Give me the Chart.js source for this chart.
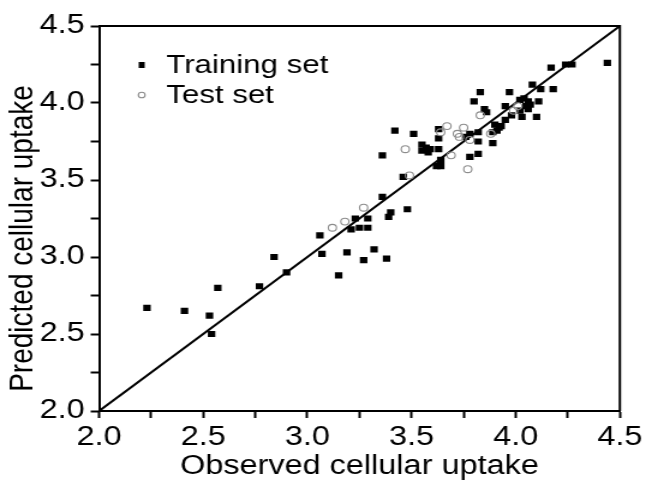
<!DOCTYPE html>
<html>
<head>
<meta charset="utf-8">
<script src="https://cdn.jsdelivr.net/npm/chart.js@4.4.1/dist/chart.umd.min.js"></script>
<style>
  body { margin: 0; background: #fff; }
  canvas { display: block; }
</style>
</head>
<body>
<!-- the original figure is stretched sideways, so the canvas is drawn narrower and widened by CSS -->
<canvas id="chartCanvas" width="538" height="483" style="width:646px;height:483px"></canvas>
<script>
// observed / predicted values
const trainX = [2.23, 2.41, 2.53, 2.54, 2.57, 2.77, 2.84, 2.90, 3.06, 3.07, 3.15, 3.19, 3.21, 3.23, 3.25,
    3.27, 3.29, 3.29, 3.32, 3.36, 3.36, 3.38, 3.39, 3.40, 3.42, 3.46, 3.48, 3.51, 3.55, 3.55,
    3.57, 3.59, 3.58, 3.62, 3.63, 3.63, 3.63, 3.64, 3.64, 3.76, 3.78, 3.78, 3.80, 3.82, 3.82,
    3.82, 3.83, 3.85, 3.86, 3.89, 3.89, 3.90, 3.91, 3.92, 3.93, 3.95, 3.95, 3.97, 3.98, 4.02,
    4.02, 4.03, 4.04, 4.05, 4.06, 4.07, 4.06, 4.08, 4.10, 4.11, 4.12, 4.17, 4.18, 4.24, 4.27, 4.44];
const trainY = [2.67, 2.65, 2.62, 2.50, 2.80, 2.81, 3.00, 2.90, 3.14, 3.02, 2.88, 3.03, 3.18, 3.25, 3.19,
    2.98, 3.25, 3.19, 3.05, 3.39, 3.66, 2.99, 3.26, 3.29, 3.82, 3.52, 3.31, 3.80, 3.73, 3.69,
    3.71, 3.70, 3.68, 3.59, 3.77, 3.83, 3.70, 3.63, 3.59, 3.78, 3.65, 3.80, 4.01, 3.81, 3.75,
    3.67, 4.07, 3.96, 3.94, 3.74, 3.81, 3.86, 3.82, 3.84, 3.85, 3.89, 3.98, 4.07, 3.92, 3.95,
    4.02, 3.91, 4.03, 3.98, 4.01, 3.99, 3.96, 4.12, 3.91, 4.01, 4.09, 4.23, 4.09, 4.25, 4.25, 4.26];

const testX = [3.12, 3.18, 3.27, 3.47, 3.49, 3.64, 3.67, 3.69, 3.72, 3.73, 3.75, 3.77, 3.78, 3.83, 3.88, 3.99, 4.01];
const testY = [3.19, 3.23, 3.32, 3.70, 3.53, 3.81, 3.85, 3.66, 3.80, 3.78, 3.84, 3.57, 3.76, 3.92, 3.80, 3.95, 3.98];

// y = x reference line
const lineX = [2.0, 4.5];
const lineY = [2.0, 4.5];

const legendNames = ["Training set", "Test set"];
const xTitle = 'Observed cellular uptake';
const yTitle = 'Predicted cellular uptake';
const axisMin = 2.0;
const axisMax = 4.5;

const FONT = "'Liberation Sans', Arial, sans-serif";

function toPoints(xs, ys) {
    return xs.map((x, i) => ({ x: x, y: ys[i] }));
}

// box around the plot, the legend inside the top-left corner, and the y title
// (which sits a bit lower than the centre of the axis in the original)
const framePlugin = {
    id: 'frame',
    afterDraw(chart) {
        const ctx = chart.ctx;
        const a = chart.chartArea;
        ctx.save();
        ctx.strokeStyle = '#000';
        ctx.lineWidth = 2;
        ctx.beginPath();
        ctx.moveTo(a.left, a.top);
        ctx.lineTo(a.right, a.top);
        ctx.lineTo(a.right, a.bottom);
        ctx.stroke();

        ctx.font = '26px ' + FONT;
        ctx.fillStyle = '#000';
        ctx.textBaseline = 'middle';
        // training marker
        ctx.fillRect(a.left + 33, a.top + 36, 5, 6);
        ctx.fillText(legendNames[0], a.left + 56, a.top + 40);
        // test marker
        ctx.strokeStyle = '#8c8c8c';
        ctx.lineWidth = 1.1;
        ctx.beginPath();
        ctx.arc(a.left + 35.5, a.top + 69, 2.8, 0, Math.PI * 2);
        ctx.stroke();
        ctx.fillText(legendNames[1], a.left + 56, a.top + 70);

        ctx.font = '28px ' + FONT;
        ctx.textAlign = 'center';
        ctx.translate(19, (a.top + a.bottom) / 2 + 20);
        ctx.rotate(-Math.PI / 2);
        ctx.fillText(yTitle, 0, 0);
        ctx.restore();
    }
};

function tickLabel(value) {
    return Math.round(value * 4) % 2 === 0 ? value.toFixed(1) : '';
}

const ctx = document.getElementById('chartCanvas').getContext('2d');
const chart = new Chart(ctx, {
    type: 'scatter',
    data: {
        datasets: [
            {
                label: 'y = x',
                data: toPoints(lineX, lineY),
                showLine: true,
                borderColor: '#000',
                borderWidth: 2,
                pointRadius: 0,
                order: 3
            },
            {
                label: legendNames[0],
                data: toPoints(trainX, trainY),
                pointStyle: 'rect',
                pointRadius: 4.4,
                backgroundColor: '#000',
                borderWidth: 0,
                order: 2
            },
            {
                label: legendNames[1],
                data: toPoints(testX, testY),
                pointStyle: 'circle',
                pointRadius: 3.4,
                backgroundColor: 'rgba(0,0,0,0)',
                borderColor: '#8c8c8c',
                borderWidth: 1.1,
                order: 1
            }
        ]
    },
    options: {
        responsive: false,
        animation: false,
        layout: {
            padding: { top: 26, right: 19, left: 0, bottom: 0 }
        },
        scales: {
            x: {
                type: 'linear',
                position: 'bottom',
                min: axisMin,
                max: axisMax,
                afterFit: scale => { scale.height = 72; },
                ticks: {
                    stepSize: 0.25,
                    autoSkip: false,
                    maxRotation: 0,
                    padding: 3,
                    color: '#000',
                    font: { family: FONT, size: 27 },
                    callback: tickLabel
                },
                grid: {
                    drawOnChartArea: false,
                    tickLength: 7,
                    tickColor: '#000',
                    tickWidth: 2
                },
                border: { color: '#000', width: 2 },
                title: {
                    display: true,
                    text: xTitle,
                    color: '#000',
                    font: { family: FONT, size: 27 },
                    padding: { top: 0, bottom: 0 }
                }
            },
            y: {
                type: 'linear',
                min: axisMin,
                max: axisMax,
                afterFit: scale => { scale.width = 82.5; },
                ticks: {
                    stepSize: 0.25,
                    autoSkip: false,
                    padding: 5,
                    color: '#000',
                    font: { family: FONT, size: 27 },
                    callback: tickLabel
                },
                grid: {
                    drawOnChartArea: false,
                    tickLength: 7,
                    tickColor: '#000',
                    tickWidth: 2
                },
                border: { color: '#000', width: 2 },
                title: { display: false }
            }
        },
        plugins: {
            legend: { display: false },
            tooltip: { enabled: false }
        }
    },
    plugins: [framePlugin]
});
</script>
</body>
</html>
